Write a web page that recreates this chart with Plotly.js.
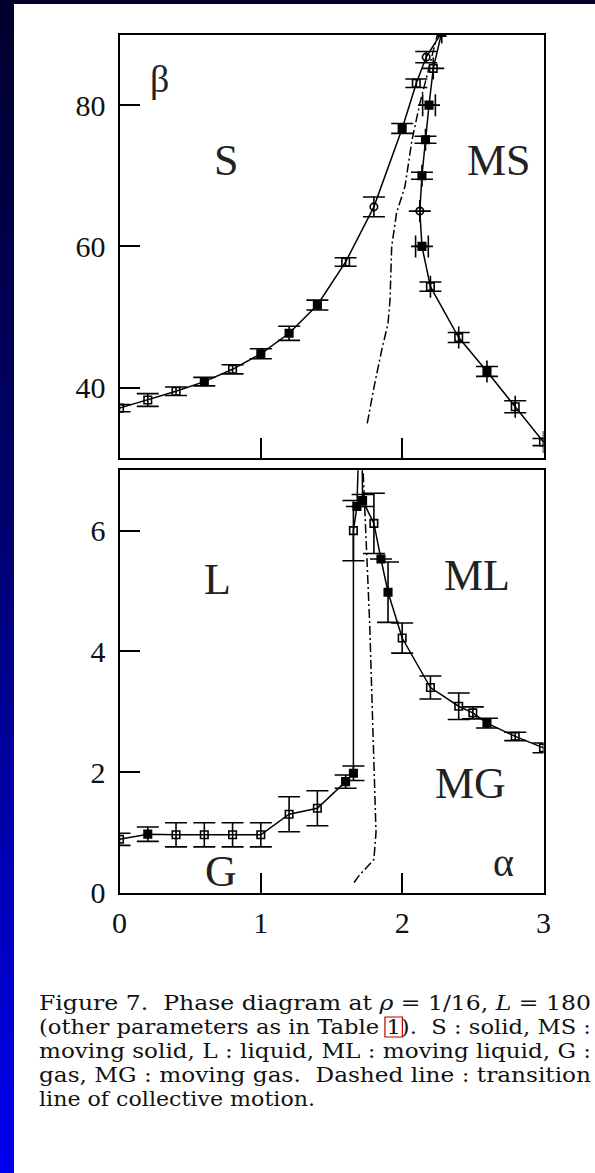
<!DOCTYPE html>
<html><head><meta charset="utf-8">
<script src="https://cdn.plot.ly/plotly-3.0.1.min.js"></script>
<style>
html,body{margin:0;padding:0;width:595px;height:1173px;overflow:hidden;
background:linear-gradient(to bottom,#00002c 0%,#000070 45%,#0000f2 100%);}
#chart{position:absolute;left:0;top:0;width:595px;height:1173px;}
</style></head><body><div id="chart"></div>
<script>
// ---- Top panel (beta vs alpha) ----
const sAlpha = [0, 0.2, 0.4, 0.6, 0.8, 1.0, 1.2, 1.4, 1.6, 1.8, 2.0, 2.1, 2.17, 2.28];
const sBeta  = [37.1, 38.25, 39.5, 40.85, 42.6, 44.8, 47.7, 51.7, 57.8, 65.6, 76.7, 83.1, 86.8, 90.3];
const sErr   = [0.5, 0.9, 0.6, 0.6, 0.65, 0.7, 1.0, 0.7, 0.6, 1.4, 0.7, 0.6, 0.8, 0];

const msAlpha    = [3.0, 2.8, 2.6, 2.4, 2.2, 2.14, 2.125, 2.14, 2.165, 2.19, 2.22, 2.28];
const msBeta     = [32.3, 37.3, 42.3, 47.1, 54.3, 60.0, 65.0, 70.0, 75.1, 80.0, 85.2, 90.3];
const msErrBeta  = [0.5, 0.85, 0.7, 0.7, 0.65, 0, 0, 0.5, 0.5, 0, 0, 0];
const msErrAlpha = [0, 0, 0, 0, 0, 0.045, 0, 0, 0, 0.045, 0, 0];

const cmTopAlpha = [1.753, 1.80, 1.855, 1.90, 1.914, 1.926, 1.96, 2.02, 2.07, 2.126, 2.25];
const cmTopBeta  = [34.95, 40.0, 45.3, 49.1, 52.4, 60.0, 64.7, 68.5, 75.1, 80.3, 90.0];

// ---- Bottom panel ----
const lAlpha = [0, 0.2, 0.4, 0.6, 0.8, 1.0, 1.2, 1.4, 1.6, 1.655, 1.655, 1.68, 1.695];
const lVal   = [0.885, 0.97, 0.96, 0.96, 0.96, 0.96, 1.30, 1.40, 1.84, 1.98, 6.0, 6.4, 7.6];
const lErr   = [0.1, 0.12, 0.2, 0.2, 0.2, 0.2, 0.29, 0.29, 0.11, 0.12, 0.5, 0, 0];

const mlAlpha = [3.0, 2.8, 2.6, 2.5, 2.4, 2.2, 2.0, 1.9, 1.85, 1.8, 1.72, 1.715];
const mlVal   = [2.40, 2.59, 2.81, 2.98, 3.09, 3.40, 4.22, 4.98, 5.53, 6.12, 6.5, 7.6];
const mlErr   = [0.08, 0.07, 0.08, 0.1, 0.22, 0.19, 0.25, 0.5, 0, 0.5, 0.1, 0];

const cmBotAlpha = [1.66, 1.70, 1.75, 1.80, 1.815, 1.81, 1.80, 1.785, 1.77, 1.75, 1.73, 1.72];
const cmBotVal   = [0.17, 0.30, 0.42, 0.55, 1.0, 1.43, 2.09, 3.2, 4.47, 5.57, 6.68, 7.2];

const topYTicks = [40, 60, 80];
const botYTicks = [0, 2, 4, 6];
const xTicks = [0, 1, 2, 3];

const regionLabels = ['β', 'S', 'MS', 'L', 'ML', 'MG', 'G', 'α'];
const captionLines = [
  'Figure 7.  Phase diagram at <i>ρ</i> = 1/16, <i>L</i> = 180',
  '(other parameters as in Table 1).  S : solid, MS :',
  'moving solid, L : liquid, ML : moving liquid, G :',
  'gas, MG : moving gas.  Dashed line : transition',
  'line of collective motion.'
];

// ---- styles / layout ----
const W = 595, H = 1173;
const px = v => v / W, py = v => 1 - v / H;
const O = 'square-open', F = 'square', C = 'circle-open';
const sSym  = [O, O, O, F, O, F, F, F, O, C, F, O, C, O];
const msSym = [O, O, F, O, O, F, C, F, F, F, O, O];
const lSym  = [O, F, O, O, O, O, O, O, F, F, O, F, F];
const mlSym = [O, O, F, O, O, O, O, F, F, O, F, F];

const lineStyle = {color: '#000', width: 1.5};
const mk = sym => ({symbol: sym, size: 7.5, color: '#000', line: {color: '#000', width: 1.6}});
const ey = arr => ({type: 'data', array: arr, visible: true, color: '#000', thickness: 1.6, width: 11});
const ex = arr => ({type: 'data', array: arr, visible: true, color: '#000', thickness: 1.6, width: 11});
const dashCM = {color: '#000', width: 1.5, dash: '9px,3px,2px,3px'};

const traces = [
  {x: sAlpha, y: sBeta, mode: 'lines+markers', line: lineStyle, marker: mk(sSym), error_y: ey(sErr), xaxis: 'x', yaxis: 'y'},
  {x: msAlpha, y: msBeta, mode: 'lines+markers', line: lineStyle, marker: mk(msSym), error_y: ey(msErrBeta), error_x: ex(msErrAlpha), xaxis: 'x', yaxis: 'y'},
  {x: cmTopAlpha, y: cmTopBeta, mode: 'lines', line: dashCM, xaxis: 'x', yaxis: 'y'},
  {x: lAlpha, y: lVal, mode: 'lines+markers', line: lineStyle, marker: mk(lSym), error_y: ey(lErr), xaxis: 'x2', yaxis: 'y2'},
  {x: mlAlpha, y: mlVal, mode: 'lines+markers', line: lineStyle, marker: mk(mlSym), error_y: ey(mlErr), xaxis: 'x2', yaxis: 'y2'},
  {x: cmBotAlpha, y: cmBotVal, mode: 'lines', line: dashCM, xaxis: 'x2', yaxis: 'y2'}
];

const tickFont = {family: 'Liberation Serif, serif', size: 30, color: '#111'};
const axBase = {showline: true, mirror: true, linecolor: '#000', linewidth: 2, ticks: 'inside', ticklen: 20,
  tickwidth: 2, tickcolor: '#000', showgrid: false, zeroline: false, tickfont: tickFont, fixedrange: true};
const xDom = [px(119.5), px(543.5)];

const labelPos = [[159, 79, 38], [226, 161, 44], [499, 161, 44], [218, 580, 44], [477, 575, 44], [470, 783, 44], [221, 871, 44], [503, 862, 40]];
const annotations = regionLabels.map((t, i) => ({
  text: t, xref: 'paper', yref: 'paper', x: px(labelPos[i][0]), y: py(labelPos[i][1]),
  xanchor: 'center', yanchor: 'middle', showarrow: false,
  font: {family: 'Liberation Serif, serif', size: labelPos[i][2], color: '#222'}
}));
captionLines.forEach((t, i) => annotations.push({
  text: t, xref: 'paper', yref: 'paper', x: px(37), y: py(1003 + 24 * i),
  xanchor: 'left', yanchor: 'middle', align: 'left', showarrow: false,
  font: {family: 'DejaVu Serif, serif', size: 20, color: '#111'}
}));
// target line widths of the justified caption (px)
const captionWidths = [552, 552, 552, 552, 276];

const layout = {
  width: W, height: H, margin: {l: 0, r: 0, t: 0, b: 0, pad: 0},
  paper_bgcolor: 'rgba(0,0,0,0)', plot_bgcolor: 'rgba(0,0,0,0)', showlegend: false,
  xaxis: Object.assign({}, axBase, {domain: xDom, range: [0, 3], anchor: 'y', tickvals: [1, 2], showticklabels: false}),
  yaxis: Object.assign({}, axBase, {domain: [py(458.3), py(34.5)], range: [30, 90], anchor: 'x', tickvals: topYTicks, ticklabelstandoff: 6}),
  xaxis2: Object.assign({}, axBase, {domain: xDom, range: [0, 3], anchor: 'y2', tickvals: xTicks, ticklabelstandoff: 2}),
  yaxis2: Object.assign({}, axBase, {domain: [py(892.7), py(470.3)], range: [0, 7], anchor: 'x2', tickvals: botYTicks, ticklabelstandoff: 6}),
  shapes: [
    {type: 'rect', xref: 'paper', yref: 'paper', x0: px(14), x1: 1, y0: 0, y1: py(4), fillcolor: '#fff', line: {width: 0}, layer: 'below'}
  ],
  annotations: annotations
};

Plotly.newPlot('chart', traces, layout, {displayModeBar: false, staticPlot: true}).then(gd => {
  const texts = gd.querySelectorAll('.annotation-text');
  const svgBox = gd.querySelector('.main-svg').getBoundingClientRect();
  captionLines.forEach((t, i) => {
    const el = texts[regionLabels.length + i];
    if (!el) return;
    el.setAttribute('textLength', captionWidths[i]);
    el.setAttribute('lengthAdjust', 'spacingAndGlyphs');
  });
  // red link box around the "1" of "Table 1"
  const line2 = texts[regionLabels.length + 1];
  if (line2 && line2.getExtentOfChar) {
    const idx = line2.textContent.indexOf('Table 1') + 6;
    if (line2.getNumberOfChars() > idx) {
      const a = line2.getExtentOfChar(idx);
      const ctm = line2.getScreenCTM();
      const tb = line2.getBoundingClientRect();
      const x0 = a.x * ctm.a + ctm.e - svgBox.left - 1.5;
      const x1 = x0 + a.width * ctm.a + 3;
      const y0 = tb.top - svgBox.top + 2, y1 = tb.bottom - svgBox.top - 2;
      Plotly.relayout(gd, {'shapes[1]': {type: 'rect', xref: 'paper', yref: 'paper', x0: px(x0), x1: px(x1), y0: py(y1), y1: py(y0), line: {color: '#c00000', width: 1.2}}});
    }
  }
});
</script></body></html>
